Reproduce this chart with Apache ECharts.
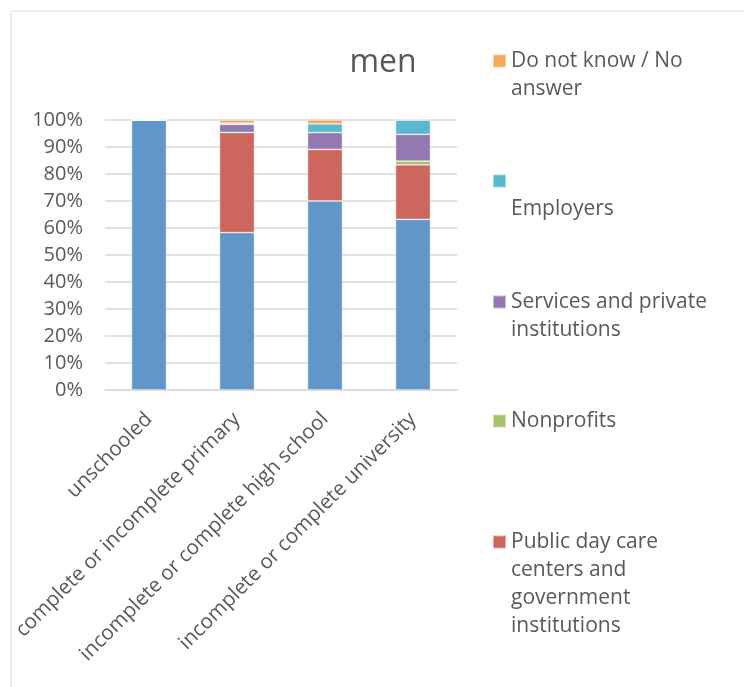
<!DOCTYPE html>
<html>
<head>
<meta charset="utf-8">
<script src="https://cdn.jsdelivr.net/npm/echarts@6/dist/echarts.min.js"></script>
<style>
    html, body { margin: 0; padding: 0; background: #fff; }
    #chart { width: 744px; height: 687px; }
</style>
</head>
<body>
<div id="chart"></div>
<script>
// 数据
var categories = ['unschooled', 'complete or incomplete primary', 'incomplete or complete high school', 'incomplete or complete university'];
var yTicks = [0, 10, 20, 30, 40, 50, 60, 70, 80, 90, 100];

var otherValues = [100, 58.3, 70.0, 63.2];      // 蓝色（图例中未显示）
var publicValues = [0, 37.1, 19.1, 20.2];
var nonprofitValues = [0, 0, 0, 1.4];
var servicesValues = [0, 3.0, 6.2, 9.9];
var employersValues = [0, 0.4, 3.3, 5.3];
var dontKnowValues = [0, 1.2, 1.4, 0];

var seriesNames = ['Other', 'Public day care centers and government institutions', 'Nonprofits', 'Services and private institutions', 'Employers', 'Do not know / No answer'];
var seriesValues = [otherValues, publicValues, nonprofitValues, servicesValues, employersValues, dontKnowValues];
var seriesColors = ['#6196C9', '#CD665D', '#A6C36B', '#9479B0', '#5BB8D1', '#F8A65B'];

// 图例显示文本（手动换行）
var legendTexts = {
    'Do not know / No answer': 'Do not know / No\nanswer',
    'Employers': '\nEmployers',
    'Services and private institutions': 'Services and private\ninstitutions',
    'Nonprofits': 'Nonprofits',
    'Public day care centers and government institutions': 'Public day care\ncenters and\ngovernment\ninstitutions'
};
var legendOrder = ['Do not know / No answer', 'Employers', 'Services and private institutions', 'Nonprofits', 'Public day care centers and government institutions'];
var legendIconY = [61, 181, 302, 421, 542];

var LINE_H = 28;
var textColor = '#595959';
var fontFamily = '"Open Sans", "Liberation Sans", sans-serif';

// 每个图例单独一个组件；前面补空行，让图标对齐第一行文字
var legends = legendOrder.map(function (name, i) {
    var lines = legendTexts[name].split('\n').length;
    var text = new Array(lines).join('\n') + legendTexts[name];
    return {
        left: 492,
        top: legendIconY[i] - (2 * lines - 1) * LINE_H / 2,
        padding: 0,
        itemWidth: 13,
        itemHeight: 13,
        icon: 'rect',
        selectedMode: false,
        data: [name],
        formatter: function () { return text; },
        textStyle: {
            color: textColor,
            fontSize: 21,
            fontFamily: fontFamily,
            lineHeight: LINE_H
        }
    };
});

var series = seriesNames.map(function (name, i) {
    return {
        name: name,
        type: 'bar',
        stack: 'total',
        barWidth: 35,
        data: seriesValues[i],
        itemStyle: {
            color: seriesColors[i],
            borderColor: 'rgba(255,255,255,0.45)',
            borderWidth: 0.8
        }
    };
});

var option = {
    animation: false,
    backgroundColor: '#fff',
    title: {
        text: 'men',
        left: 378,
        top: 42,
        textAlign: 'center',
        textStyle: { color: textColor, fontSize: 32, fontWeight: 'normal', fontFamily: fontFamily }
    },
    legend: legends,
    grid: { left: 105, right: 287, top: 120, bottom: 297, containLabel: false },
    xAxis: {
        type: 'category',
        data: categories,
        axisLine: { lineStyle: { color: '#d9d9d9', width: 1.5 } },
        axisTick: { show: false },
        axisLabel: {
            interval: 0,
            rotate: 45,
            margin: 26,
            color: textColor,
            fontSize: 20.5,
            fontFamily: fontFamily
        }
    },
    yAxis: {
        type: 'value',
        min: yTicks[0],
        max: yTicks[yTicks.length - 1],
        interval: 10,
        axisLine: { show: false },
        axisTick: { show: false },
        splitLine: { lineStyle: { color: '#d9d9d9', width: 1.5 } },
        axisLabel: {
            formatter: '{value}%',
            margin: 22,
            color: textColor,
            fontSize: 20,
            fontFamily: fontFamily
        }
    },
    graphic: [{
        type: 'rect',
        shape: { x: 11, y: 11, width: 900, height: 900 },
        style: { fill: 'none', stroke: '#d9d9d9', lineWidth: 1 },
        silent: true,
        z: -1
    }],
    series: series
};

var myechart = echarts.init(document.getElementById('chart'));
myechart.setOption(option);

window.addEventListener('resize', function () {
    myechart.resize();
});
</script>
</body>
</html>
